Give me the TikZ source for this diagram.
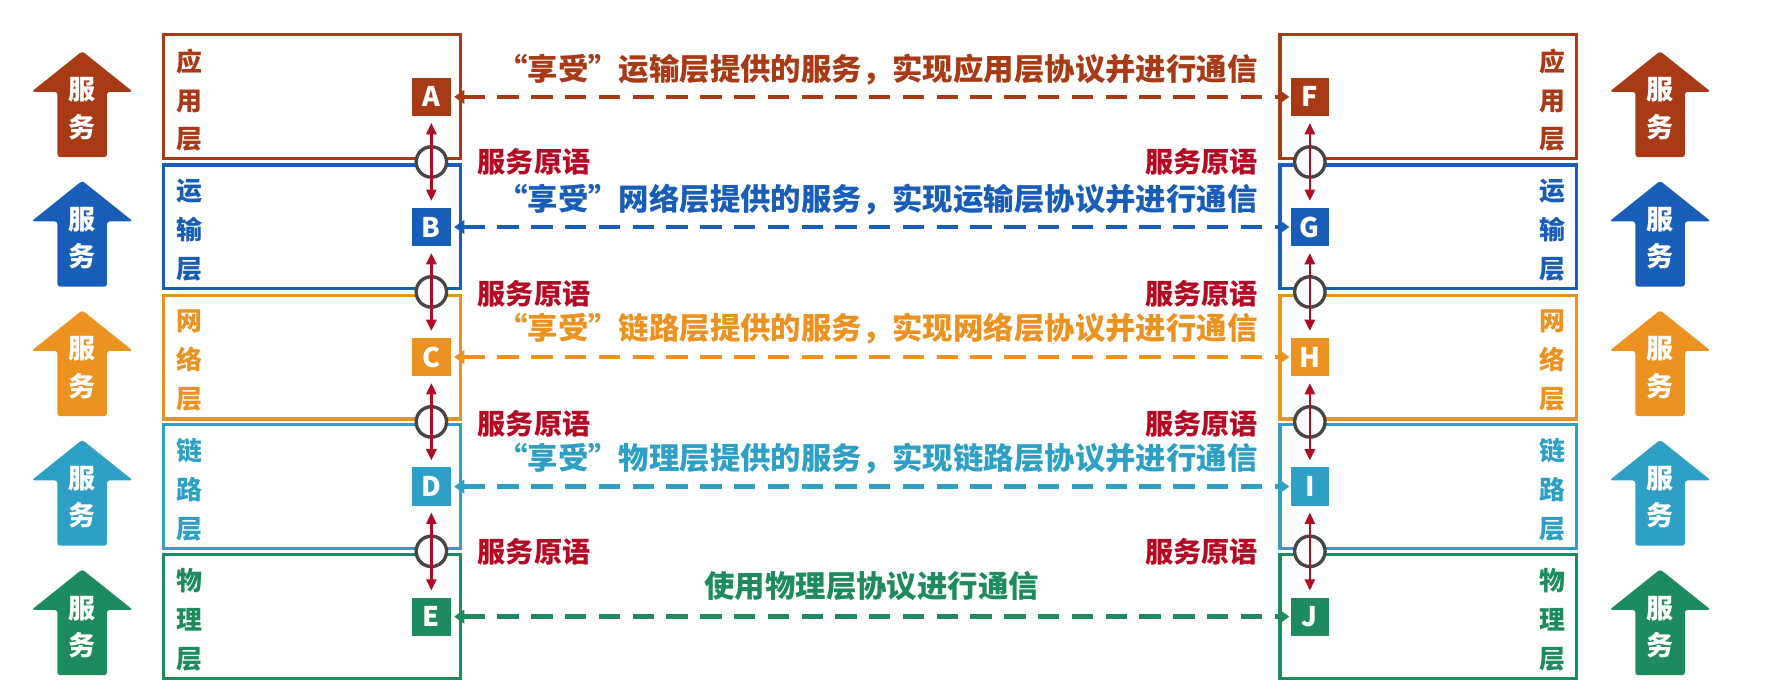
\documentclass[tikz,border=0pt]{standalone}
\usepackage{fontspec}
\setmainfont{Noto Sans CJK SC}
\usetikzlibrary{arrows.meta}

\definecolor{appc}{RGB}{168,58,22}
\definecolor{trac}{RGB}{24,94,184}
\definecolor{netc}{RGB}{236,146,32}
\definecolor{lnkc}{RGB}{46,160,198}
\definecolor{phyc}{RGB}{30,138,96}
\definecolor{primc}{RGB}{180,10,35}
\definecolor{ringc}{RGB}{70,70,70}

\tikzset{
  servarrow/.pic={
    \fill[rounded corners=2.5pt] (0,-47) -- (45,-11) -- (22,-11) -- (22,47) -- (-22,47) -- (-22,-11) -- (-45,-11) -- cycle;
    \node[servtext] (-t) at (0,4) {服\\务};
  }
}

\begin{document}
\begin{tikzpicture}[x=1pt, y=-1pt,
    layer/.style={draw=#1, line width=2.8pt, fill=white, minimum width=263pt, minimum height=110pt, inner sep=0pt},
    letter/.style={fill=#1, text=white, minimum size=34pt, inner sep=0pt, font=\fontsize{24}{24}\selectfont\bfseries},
    layername/.style={text=#1, align=center, inner sep=0pt, font=\fontsize{23}{34.5}\selectfont\bfseries},
    ring/.style={circle, draw=ringc, line width=3pt, fill=white, minimum size=27pt, inner sep=0pt},
    prim/.style={text=primc, inner sep=0pt, font=\fontsize{25}{25}\selectfont\bfseries},
    msg/.style={text=#1, inner sep=0pt, font=\fontsize{27}{27}\selectfont\bfseries},
    peer/.style={draw=#1, line width=4pt, dash pattern=on 19pt off 11pt, {Triangle[length=9pt,width=12pt]}-{Triangle[length=9pt,width=12pt]}, shorten <=3pt, shorten >=1pt},
    updown/.style={draw=primc, line width=2.2pt, {Triangle[length=10pt,width=9pt]}-{Triangle[length=10pt,width=9pt]}, shorten <=6pt, shorten >=6pt},
    servtext/.style={text=white, align=center, inner sep=0pt, font=\fontsize{24}{33}\selectfont\bfseries}]
    \useasboundingbox (0,0) rectangle (1568,614);

    % Left stack
    \node[layer=appc] (appL) at (277,86) {};
    \node[layer=trac] (traL) at (277,201.5) {};
    \node[layer=netc] (netL) at (277,317) {};
    \node[layer=lnkc] (lnkL) at (277,432) {};
    \node[layer=phyc] (phyL) at (277,547.5) {};

    % Right stack
    \node[layer=appc] (appR) at (1268,86) {};
    \node[layer=trac] (traR) at (1268,201.5) {};
    \node[layer=netc] (netR) at (1268,317) {};
    \node[layer=lnkc] (lnkR) at (1268,432) {};
    \node[layer=phyc] (phyR) at (1268,547.5) {};

    % Layer names
    \node[layername=appc] (appLn) at (168,89) {应\\用\\层};
    \node[layername=trac] (traLn) at (168,204.5) {运\\输\\层};
    \node[layername=netc] (netLn) at (168,320) {网\\络\\层};
    \node[layername=lnkc] (lnkLn) at (168,435) {链\\路\\层};
    \node[layername=phyc] (phyLn) at (168,550.5) {物\\理\\层};
    \node[layername=appc] (appRn) at (1378,89) {应\\用\\层};
    \node[layername=trac] (traRn) at (1378,204.5) {运\\输\\层};
    \node[layername=netc] (netRn) at (1378,320) {网\\络\\层};
    \node[layername=lnkc] (lnkRn) at (1378,435) {链\\路\\层};
    \node[layername=phyc] (phyRn) at (1378,550.5) {物\\理\\层};

    % Service arrows
    \pic[appc] (svLa) at (73,92.5) {servarrow};
    \pic[trac] (svLb) at (73,207.5) {servarrow};
    \pic[netc] (svLc) at (73,322.5) {servarrow};
    \pic[lnkc] (svLd) at (73,437.5) {servarrow};
    \pic[phyc] (svLe) at (73,552.5) {servarrow};
    \pic[appc] (svRa) at (1474,92.5) {servarrow};
    \pic[trac] (svRb) at (1474,207.5) {servarrow};
    \pic[netc] (svRc) at (1474,322.5) {servarrow};
    \pic[lnkc] (svRd) at (1474,437.5) {servarrow};
    \pic[phyc] (svRe) at (1474,552.5) {servarrow};

    % Entities
    \node[letter=appc] (A) at (383,86) {A};
    \node[letter=trac] (B) at (383,201.5) {B};
    \node[letter=netc] (C) at (383,317) {C};
    \node[letter=lnkc] (D) at (383,432) {D};
    \node[letter=phyc] (E) at (383,547.5) {E};
    \node[letter=appc] (F) at (1163,86) {F};
    \node[letter=trac] (G) at (1163,201.5) {G};
    \node[letter=netc] (H) at (1163,317) {H};
    \node[letter=lnkc] (I) at (1163,432) {I};
    \node[letter=phyc] (J) at (1163,547.5) {J};

    % Service access points
    \node[ring] (rL1) at (383,143.8) {};
    \node[ring] (rL2) at (383,259.2) {};
    \node[ring] (rL3) at (383,374.6) {};
    \node[ring] (rL4) at (383,489.5) {};
    \node[ring] (rR1) at (1163,143.8) {};
    \node[ring] (rR2) at (1163,259.2) {};
    \node[ring] (rR3) at (1163,374.6) {};
    \node[ring] (rR4) at (1163,489.5) {};

    % Primitives
    \draw[updown] (A) -- (B);
    \draw[updown] (B) -- (C);
    \draw[updown] (C) -- (D);
    \draw[updown] (D) -- (E);
    \draw[updown] (F) -- (G);
    \draw[updown] (G) -- (H);
    \draw[updown] (H) -- (I);
    \draw[updown] (I) -- (J);

    \node[prim, anchor=west] (pL1) at (424,144) {服务原语};
    \node[prim, anchor=west] (pL2) at (424,261) {服务原语};
    \node[prim, anchor=west] (pL3) at (424,376) {服务原语};
    \node[prim, anchor=west] (pL4) at (424,490) {服务原语};
    \node[prim, anchor=east] (pR1) at (1117,144) {服务原语};
    \node[prim, anchor=east] (pR2) at (1117,261) {服务原语};
    \node[prim, anchor=east] (pR3) at (1117,376) {服务原语};
    \node[prim, anchor=east] (pR4) at (1117,490) {服务原语};

    % Peer communication
    \draw[peer=appc] (A) -- (F);
    \draw[peer=trac] (B) -- (G);
    \draw[peer=netc] (C) -- (H);
    \draw[peer=lnkc] (D) -- (I);
    \draw[peer=phyc] (E) -- (J);

    \node[msg=appc] (mA) at (779,62) {“享受”运输层提供的服务，实现应用层协议并进行通信};
    \node[msg=trac] (mB) at (779,177) {“享受”网络层提供的服务，实现运输层协议并进行通信};
    \node[msg=netc] (mC) at (779,292) {“享受”链路层提供的服务，实现网络层协议并进行通信};
    \node[msg=lnkc] (mD) at (779,407) {“享受”物理层提供的服务，实现链路层协议并进行通信};
    \node[msg=phyc] (mE) at (774,520) {使用物理层协议进行通信};
\end{tikzpicture}
\end{document}
